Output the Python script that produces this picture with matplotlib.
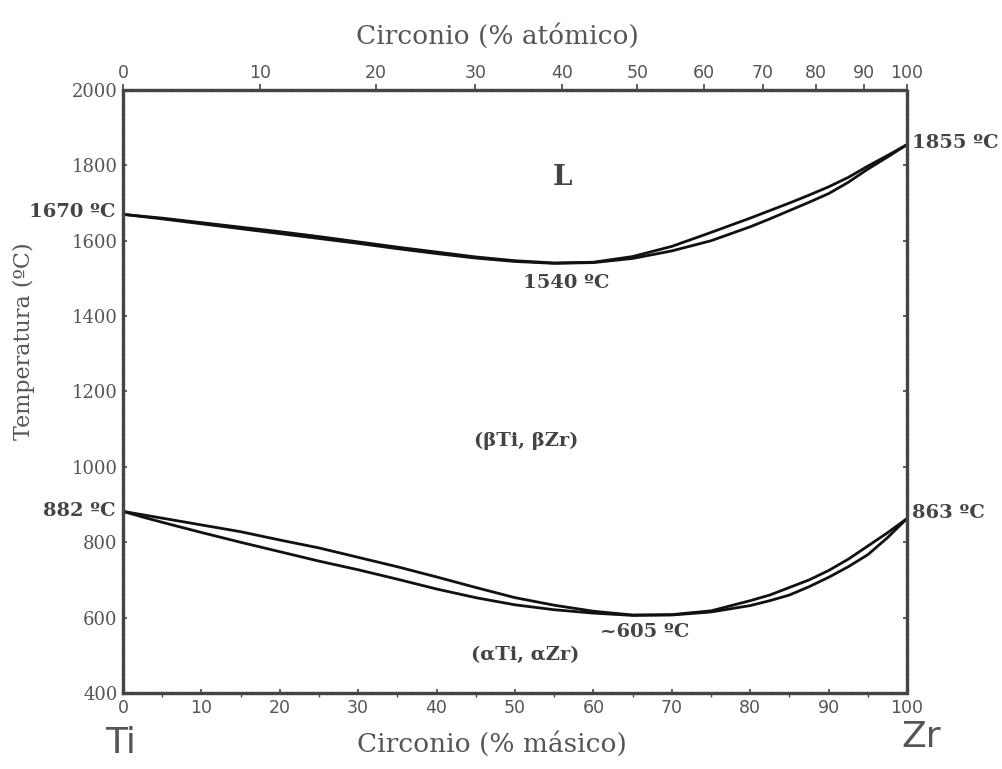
import numpy as np
import matplotlib.pyplot as plt

# Ti-Zr phase diagram (wt% Zr, degrees C)
wt = [0, 2.5, 5, 10, 15, 20, 25, 30, 35, 40, 45, 50, 55, 60, 65, 70, 75,
      80, 82.5, 85, 87.5, 90, 92.5, 95, 97.5, 100]
liquidus = [1670, 1665, 1660, 1648, 1636, 1624, 1611, 1597, 1583, 1570, 1557,
            1547, 1541, 1543, 1558, 1585, 1622, 1660, 1680, 1700, 1721, 1743,
            1768, 1798, 1826, 1855]
solidus = [1670, 1664, 1658, 1645, 1632, 1619, 1606, 1593, 1579, 1566, 1554,
           1545, 1540, 1542, 1553, 1573, 1600, 1637, 1658, 1680, 1702, 1725,
           1755, 1790, 1822, 1855]
beta_transus = [882, 873, 864, 846, 828, 806, 785, 760, 735, 708, 680, 653,
                633, 617, 607, 608, 618, 645, 660, 680, 700, 725, 755, 790,
                825, 863]
alpha_transus = [882, 867, 853, 826, 800, 775, 750, 727, 702, 676, 653, 634,
                 621, 612, 606, 607, 615, 632, 645, 660, 682, 707, 735, 767,
                 812, 863]

y_ticks = [400, 600, 800, 1000, 1200, 1400, 1600, 1800, 2000]
x_ticks = [0, 10, 20, 30, 40, 50, 60, 70, 80, 90, 100]
at_ticks = [0, 10, 20, 30, 40, 50, 60, 70, 80, 90, 100]

M_TI = 47.867
M_ZR = 91.224


def wt_to_at(w):
    w = np.clip(np.asarray(w, dtype=float), 0, 100)
    a = w / M_ZR
    b = (100 - w) / M_TI
    return 100 * a / np.where(a + b == 0, 1, a + b)


def at_to_wt(x):
    x = np.clip(np.asarray(x, dtype=float), 0, 100)
    a = x * M_ZR
    b = (100 - x) * M_TI
    return 100 * a / np.where(a + b == 0, 1, a + b)


grey = '#555555'
dark = '#444444'
serif = 'DejaVu Serif'

fig = plt.figure(figsize=(10.03, 7.69), dpi=100)
ax = fig.add_axes([0.1226, 0.0988, 0.7817, 0.7842])

for ys in (liquidus, solidus, beta_transus, alpha_transus):
    ax.plot(wt, ys, color='#111111', lw=2.0, solid_capstyle='round',
            solid_joinstyle='round')

ax.set_xlim(0, 100)
ax.set_ylim(400, 2000)

for s in ax.spines.values():
    s.set_linestyle((0, (0.7, 0.8)))
    s.set_linewidth(2.4)
    s.set_color('#444444')

ax.set_yticks(y_ticks)
ax.set_yticklabels([str(t) for t in y_ticks], fontsize=13, color=grey, family=serif)
ax.set_xticks(x_ticks)
ax.set_xticklabels([str(t) for t in x_ticks], fontsize=12.5, color=grey)
ax.tick_params(axis='both', direction='out', length=4, width=1.2, color='#444444', pad=4)
ax.set_xticks(np.arange(5, 100, 10), minor=True)
ax.tick_params(axis='x', which='minor', direction='out', length=3, width=1.0, color='#444444')
ax.tick_params(right=True, which='major', direction='in', length=3)

ax.set_ylabel('Temperatura (ºC)', fontsize=16, color=grey, family=serif)
ax.yaxis.set_label_coords(-0.112, 0.584)

top = ax.secondary_xaxis('top', functions=(wt_to_at, at_to_wt))
top.set_xticks(at_ticks)
top.set_xticklabels([str(t) for t in at_ticks], fontsize=12.5, color=grey)
top.tick_params(direction='out', length=4, width=1.2, color='#444444', pad=2)
top.spines['top'].set_visible(False)

fig.text(0.496, 0.936, 'Circonio (% atómico)', fontsize=19, color=grey, family=serif,
         ha='center', va='bottom')
fig.text(0.49, 0.016, 'Circonio (% másico)', fontsize=19, color=grey, family=serif,
         ha='center', va='bottom')
fig.text(0.12, 0.012, 'Ti', fontsize=26, color=grey, ha='center', va='bottom')
fig.text(0.918, 0.02, 'Zr', fontsize=26, color=grey, ha='center', va='bottom')

bold = dict(fontsize=14, fontweight='bold', color=dark, family=serif)
ax.text(-0.9, 1676, '1670 ºC', ha='right', va='center', **bold)
ax.text(100.6, 1859, '1855 ºC', ha='left', va='center', clip_on=False, **bold)
ax.text(56.6, 1488, '1540 ºC', ha='center', va='center', **bold)
ax.text(-0.9, 884, '882 ºC', ha='right', va='center', **bold)
ax.text(100.6, 878, '863 ºC', ha='left', va='center', clip_on=False, **bold)
ax.text(66.5, 562, '~605 ºC', ha='center', va='center', **bold)
ax.text(56, 1767, 'L', ha='center', va='center', fontsize=20, fontweight='bold',
        color=dark, family=serif)
ax.text(51.4, 1069, '(βTi, βZr)', ha='center', va='center', **bold)
ax.text(51.3, 501, '(αTi, αZr)', ha='center', va='center', **bold)

fig.savefig('out.png', dpi=100, facecolor='white')
